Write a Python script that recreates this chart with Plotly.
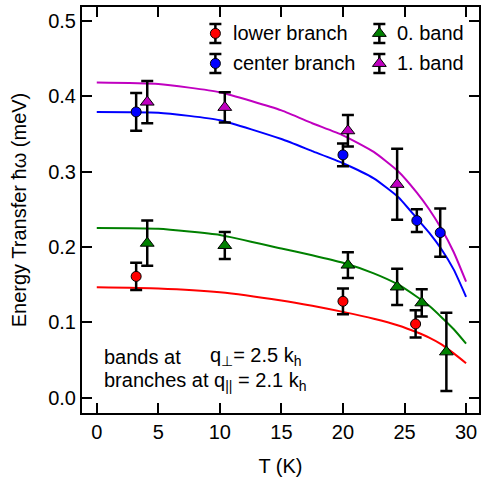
import plotly.graph_objects as go

# ---- measured points: temperature (K), energy (meV), error (meV) ----
lower_T = [3.2, 20.0, 25.9]
lower_E = [0.161, 0.128, 0.098]
lower_err = [0.018, 0.017, 0.018]

center_T = [3.2, 20.0, 26.0, 27.9]
center_E = [0.379, 0.322, 0.235, 0.219]
center_err = [0.025, 0.015, 0.015, 0.032]

band0_T = [4.1, 10.4, 20.4, 24.4, 26.4, 28.4]
band0_E = [0.205, 0.202, 0.176, 0.147, 0.126, 0.061]
band0_err = [0.030, 0.018, 0.017, 0.024, 0.018, 0.052]

band1_T = [4.1, 10.4, 20.4, 24.4]
band1_E = [0.392, 0.385, 0.354, 0.283]
band1_err = [0.028, 0.020, 0.021, 0.047]

# ---- fitted curves sampled along T ----
fit_T = [0, 5, 10, 15, 17.5, 20, 22.5, 24.5, 26, 27, 28, 29, 30]
fit_lower = [0.1466, 0.145, 0.140, 0.129, 0.122, 0.114, 0.105, 0.096, 0.087, 0.080, 0.071, 0.059, 0.046]
fit_center = [0.379, 0.378, 0.368, 0.343, 0.327, 0.311, 0.291, 0.266, 0.238, 0.219, 0.197, 0.170, 0.134]
fit_band0 = [0.225, 0.224, 0.216, 0.198, 0.189, 0.179, 0.165, 0.150, 0.134, 0.122, 0.107, 0.091, 0.072]
fit_band1 = [0.418, 0.416, 0.405, 0.381, 0.364, 0.348, 0.326, 0.300, 0.272, 0.250, 0.224, 0.193, 0.154]

x_ticks = [0, 5, 10, 15, 20, 25, 30]
y_ticks = [0.0, 0.1, 0.2, 0.3, 0.4, 0.5]
y_tick_text = ["0.0", "0.1", "0.2", "0.3", "0.4", "0.5"]

RED = "#ff0000"
BLUE = "#0000ff"
GREEN = "#008000"
MAGENTA = "#c000c0"
FONT = "Liberation Sans, Arial, Helvetica, sans-serif"
FS = 20

series = [
    ("lower branch", lower_T, lower_E, lower_err, fit_lower, RED, "circle", 10),
    ("center branch", center_T, center_E, center_err, fit_center, BLUE, "circle", 10),
    ("0. band", band0_T, band0_E, band0_err, fit_band0, GREEN, "triangle-up", 12),
    ("1. band", band1_T, band1_E, band1_err, fit_band1, MAGENTA, "triangle-up", 12),
]

fig = go.Figure()

# fitted curves
for name, _, _, _, fit, color, _, _ in series:
    fig.add_trace(go.Scatter(
        x=fit_T, y=fit, mode="lines", name=name + " fit",
        line=dict(color=color, width=2, shape="spline", smoothing=0.5),
        showlegend=False, hoverinfo="skip",
    ))

# data points with error bars
for name, T, E, err, _, color, symbol, size in series:
    fig.add_trace(go.Scatter(
        x=T, y=E, mode="markers", name=name, showlegend=False,
        marker=dict(color=color, symbol=symbol, size=size,
                    line=dict(color="black", width=1)),
        error_y=dict(type="data", array=err, visible=True,
                     color="black", thickness=2.5, width=6),
    ))

# legend glyphs drawn on a unit overlay axis
leg_x = [0.336, 0.336, 0.749, 0.749]
leg_y = [0.935, 0.861, 0.935, 0.861]
for (name, _, _, _, _, color, symbol, size), lx, ly in zip(series, leg_x, leg_y):
    fig.add_trace(go.Scatter(
        x=[lx], y=[ly], xaxis="x2", yaxis="y2", mode="markers",
        showlegend=False, hoverinfo="skip",
        marker=dict(color=color, symbol=symbol, size=size,
                    line=dict(color="black", width=1)),
        error_y=dict(type="constant", value=0.0234, visible=True,
                     color="black", thickness=2.5, width=6),
    ))
    fig.add_annotation(
        x=lx + 0.040, y=ly, xref="x2", yref="y2", text=name,
        showarrow=False, xanchor="left", yanchor="middle",
        font=dict(family=FONT, size=FS, color="black"),
    )

# measurement conditions
note_font = dict(family=FONT, size=FS, color="black")
fig.add_annotation(x=0.050, y=0.138, xref="paper", yref="paper",
                   text="bands at", showarrow=False,
                   xanchor="left", yanchor="middle", font=note_font)
fig.add_annotation(x=0.318, y=0.138, xref="paper", yref="paper",
                   text="q<sub>⊥</sub>= 2.5 k<sub>h</sub>", showarrow=False,
                   xanchor="left", yanchor="middle", font=note_font)
fig.add_annotation(x=0.050, y=0.077, xref="paper", yref="paper",
                   text="branches at q<sub>||</sub> = 2.1 k<sub>h</sub>", showarrow=False,
                   xanchor="left", yanchor="middle", font=note_font)

axis_common = dict(
    showline=True, linecolor="black", linewidth=2, mirror="ticks",
    ticks="inside", ticklen=10, tickwidth=1.5, tickcolor="black",
    showgrid=False, zeroline=False,
    tickfont=dict(family=FONT, size=FS, color="black"),
)

fig.update_layout(
    width=483, height=478,
    margin=dict(l=82, r=2, t=7, b=65),
    paper_bgcolor="white", plot_bgcolor="white",
    showlegend=False,
    xaxis=dict(range=[-1.2, 31.05], tickvals=x_ticks,
               title=dict(text="T (K)", font=dict(family=FONT, size=FS, color="black"),
                          standoff=17),
               **axis_common),
    yaxis=dict(range=[-0.02, 0.518], tickvals=y_ticks, ticktext=y_tick_text,
               title=dict(text="Energy Transfer ħω (meV)",
                          font=dict(family=FONT, size=FS, color="black"),
                          standoff=16),
               **axis_common),
    xaxis2=dict(range=[0, 1], overlaying="x", visible=False, fixedrange=True),
    yaxis2=dict(range=[0, 1], overlaying="y", visible=False, fixedrange=True),
)

fig.write_html("out.html")
